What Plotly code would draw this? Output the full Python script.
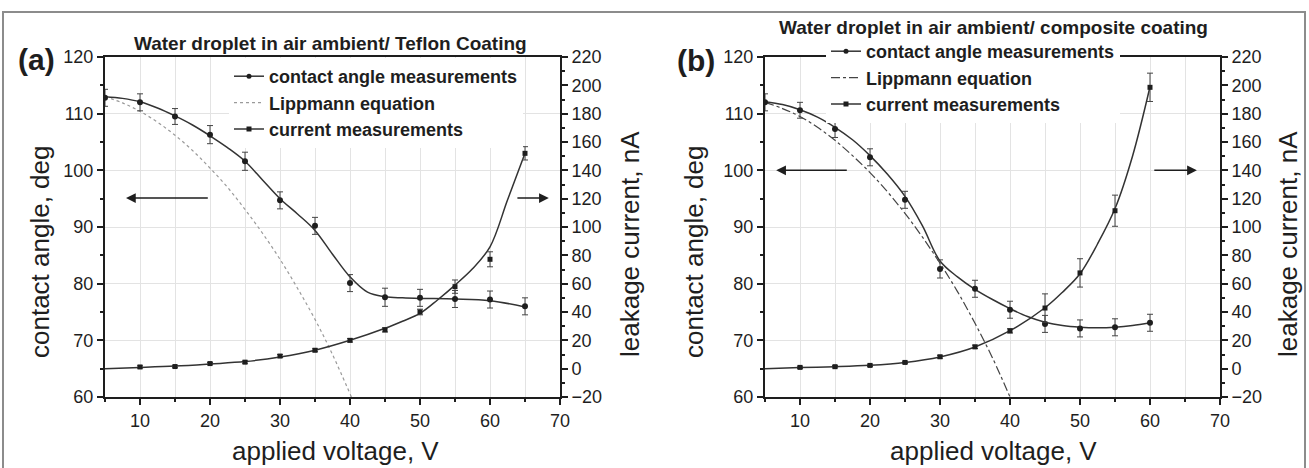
import plotly.graph_objects as go

W, H = 1309, 468
FONT = "Liberation Sans, Arial, sans-serif"

# ---------------- panel (a): Teflon coating ----------------
volt_a = [5, 10, 15, 20, 25, 30, 35, 40, 45, 50, 55, 60, 65]
angle_a = [112.8, 112.0, 109.5, 106.3, 101.6, 94.7, 90.2, 80.1, 77.6, 77.5, 77.3, 77.2, 76.0]
angle_err_a = [1.5, 1.5, 1.4, 1.6, 1.6, 1.5, 1.5, 1.5, 1.6, 1.5, 1.5, 1.5, 1.5]

cur_volt_a = [10, 15, 20, 25, 30, 35, 40, 45, 50, 55, 60, 65]
current_a = [1.2, 1.5, 3.6, 4.6, 8.9, 13.0, 20.0, 27.4, 40.0, 57.9, 77.2, 152.0]
current_err_a = [0.8, 0.8, 0.8, 0.8, 1.0, 1.0, 1.2, 1.5, 2.0, 4.7, 5.3, 4.7]

fit_volt_a = [5, 7.5, 10, 12.5, 15, 17.5, 20, 22.5, 25, 27.5, 30, 32.5, 35, 37.5,
              40, 42.5, 45, 47.5, 50, 55, 60, 65]
fit_angle_a = [113.0, 112.7, 112.1, 111.0, 109.6, 108.0, 106.1, 104.0, 101.6, 98.3,
               95.0, 92.3, 89.4, 85.2, 81.2, 78.5, 77.7, 77.5, 77.4, 77.3, 77.0, 75.9]

fit_cur_volt_a = [5, 10, 15, 20, 25, 30, 35, 40, 45, 47.5, 50, 52.5, 55, 57.5, 60, 62.5, 65]
fit_current_a = [0.0, 0.8, 1.8, 3.3, 5.0, 8.2, 13.0, 20.0, 28.5, 33.5, 39.0, 48.5,
                 59.0, 70.5, 86.0, 119.0, 152.0]

lipp_volt_a = [5, 7.5, 10, 12.5, 15, 17.5, 20, 22.5, 25, 27.5, 30, 32.5, 35, 37.5, 40.2]
lipp_angle_a = [113.0, 111.9, 110.4, 108.5, 106.2, 103.5, 100.4, 97.0, 93.1, 88.9,
                84.3, 79.2, 73.7, 67.5, 60.0]

# ---------------- panel (b): composite coating ----------------
volt_b = [5, 10, 15, 20, 25, 30, 35, 40, 45, 50, 55, 60]
angle_b = [112.0, 110.6, 107.3, 102.3, 94.8, 82.6, 79.1, 75.4, 72.9, 72.1, 72.3, 73.1]
angle_err_b = [1.5, 1.4, 1.5, 1.5, 1.5, 1.6, 1.5, 1.5, 1.5, 1.5, 1.5, 1.5]

cur_volt_b = [10, 15, 20, 25, 30, 35, 40, 45, 50, 55, 60]
current_b = [0.9, 1.4, 2.3, 4.4, 8.4, 15.4, 26.7, 42.8, 67.6, 111.5, 198.6]
current_err_b = [0.8, 0.8, 0.8, 0.8, 1.0, 1.2, 1.5, 10.0, 10.0, 11.0, 10.0]

fit_volt_b = [5, 7.5, 10, 12.5, 15, 17.5, 20, 22.5, 25, 27.5, 30, 32.5, 35, 37.5,
              40, 42.5, 45, 47.5, 50, 52.5, 55, 57.5, 60]
fit_angle_b = [112.1, 111.6, 110.7, 109.4, 107.6, 105.4, 102.6, 99.3, 95.4, 90.2,
               84.0, 81.2, 79.0, 77.2, 75.6, 74.2, 73.2, 72.6, 72.3, 72.2, 72.3, 72.6, 73.1]

fit_cur_volt_b = [5, 10, 15, 20, 25, 30, 35, 40, 45, 47.5, 50, 52.5, 55, 57.5, 60]
fit_current_b = [0.0, 0.8, 1.4, 2.4, 4.4, 8.3, 15.3, 26.8, 43.0, 54.0, 67.0, 88.0,
                 113.0, 150.0, 199.0]

lipp_volt_b = [5, 7.5, 10, 12.5, 15, 17.5, 20, 22.5, 25, 27.5, 30, 32.5, 35, 37.5, 40]
lipp_angle_b = [112.0, 110.9, 109.5, 107.6, 105.3, 102.6, 99.6, 96.2, 92.4, 88.2,
                83.6, 78.6, 73.0, 66.9, 60.0]

x_ticks = [10, 20, 30, 40, 50, 60, 70]
angle_ticks = [60, 70, 80, 90, 100, 110, 120]
current_ticks = [-20, 0, 20, 40, 60, 80, 100, 120, 140, 160, 180, 200, 220]

# pixel layout helpers
def px(x):
    return x / W

def py(y):
    return 1 - y / H

dom_a = [px(105), px(560)]
dom_b = [px(765), px(1220)]
dom_y = [py(397), py(57)]

INK = "#1e1e1e"
LINE = "#333333"
GRID = "#e3e3e3"

fig = go.Figure()

def add_panel(xa, ya, ya2, leg, volt, ang, ang_err, cvolt, cur, cur_err,
              fv, fa, fcv, fc, lv, la, lipp_style):
    # fitted contact-angle curve
    fig.add_trace(go.Scatter(x=fv, y=fa, mode="lines", line=dict(color=LINE, width=1.5, shape="spline"),
                             xaxis=xa, yaxis=ya, showlegend=False, hoverinfo="skip"))
    # Lippmann prediction
    fig.add_trace(go.Scatter(x=lv, y=la, mode="lines", line=dict(shape="spline", **lipp_style),
                             xaxis=xa, yaxis=ya, showlegend=False, hoverinfo="skip"))
    # contact-angle measurements
    fig.add_trace(go.Scatter(x=volt, y=ang, mode="markers",
                             marker=dict(symbol="circle", size=6, color=INK),
                             error_y=dict(type="data", array=ang_err, color="#444", thickness=1, width=3),
                             xaxis=xa, yaxis=ya, showlegend=False))
    # fitted leakage-current curve
    fig.add_trace(go.Scatter(x=fcv, y=fc, mode="lines", line=dict(color=LINE, width=1.5, shape="spline"),
                             xaxis=xa, yaxis=ya2, showlegend=False, hoverinfo="skip"))
    # current measurements
    fig.add_trace(go.Scatter(x=cvolt, y=cur, mode="markers",
                             marker=dict(symbol="square", size=5, color=INK),
                             error_y=dict(type="data", array=cur_err, color="#444", thickness=1, width=3),
                             xaxis=xa, yaxis=ya2, showlegend=False))
    # legend entries
    fig.add_trace(go.Scatter(x=[None], y=[None], mode="lines+markers", name="contact angle measurements",
                             line=dict(color=LINE, width=1.5), marker=dict(symbol="circle", size=5, color=INK),
                             xaxis=xa, yaxis=ya, legend=leg))
    fig.add_trace(go.Scatter(x=[None], y=[None], mode="lines", name="Lippmann equation",
                             line=lipp_style, xaxis=xa, yaxis=ya, legend=leg))
    fig.add_trace(go.Scatter(x=[None], y=[None], mode="lines+markers", name="current measurements",
                             line=dict(color=LINE, width=1.5), marker=dict(symbol="square", size=5, color=INK),
                             xaxis=xa, yaxis=ya, legend=leg))

add_panel("x", "y", "y2", "legend", volt_a, angle_a, angle_err_a, cur_volt_a, current_a, current_err_a,
          fit_volt_a, fit_angle_a, fit_cur_volt_a, fit_current_a, lipp_volt_a, lipp_angle_a,
          dict(color="#9a9a9a", width=1.2, dash="dot"))
add_panel("x2", "y3", "y4", "legend2", volt_b, angle_b, angle_err_b, cur_volt_b, current_b, current_err_b,
          fit_volt_b, fit_angle_b, fit_cur_volt_b, fit_current_b, lipp_volt_b, lipp_angle_b,
          dict(color="#444444", width=1.2, dash="dashdot"))

tickfont = dict(family=FONT, size=18, color=INK)

def xaxis_cfg(domain, anchor):
    return dict(domain=domain, anchor=anchor, range=[5, 70], tickvals=x_ticks, ticks="outside",
                ticklen=6, tickwidth=1.5, tickcolor=INK, showline=True, linecolor=INK, linewidth=2,
                mirror=True, showgrid=True, gridcolor=GRID, gridwidth=1, zeroline=False,
                tickfont=tickfont, automargin=False,
                minor=dict(dtick=5, tick0=5, ticks="outside", ticklen=3, tickcolor=INK,
                           showgrid=True, gridcolor=GRID))

def yleft_cfg(anchor):
    return dict(domain=dom_y, anchor=anchor, range=[60, 120], tickvals=angle_ticks, ticks="outside",
                ticklen=6, tickwidth=1.5, tickcolor=INK, showline=True, linecolor=INK, linewidth=2,
                showgrid=True, gridcolor=GRID, zeroline=False, tickfont=tickfont, automargin=False,
                minor=dict(dtick=5, tick0=60, ticks="outside", ticklen=3, tickcolor=INK, showgrid=False))

def yright_cfg(anchor, over):
    return dict(anchor=anchor, overlaying=over, side="right", range=[-20, 220], tickvals=current_ticks,
                ticks="outside", ticklen=6, tickwidth=1.5, tickcolor=INK, showline=True, linecolor=INK,
                linewidth=2, showgrid=False, zeroline=False, tickfont=tickfont, automargin=False,
                minor=dict(dtick=10, tick0=-20, ticks="outside", ticklen=3, tickcolor=INK))

legend_font = dict(family=FONT, size=18, color=INK, weight="bold")

fig.update_layout(
    width=W, height=H, autosize=False,
    margin=dict(l=0, r=0, t=0, b=0),
    paper_bgcolor="white", plot_bgcolor="white",
    font=dict(family=FONT, color=INK),
    xaxis=xaxis_cfg(dom_a, "y"),
    xaxis2=xaxis_cfg(dom_b, "y3"),
    yaxis=yleft_cfg("x"),
    yaxis2=yright_cfg("x", "y"),
    yaxis3=yleft_cfg("x2"),
    yaxis4=yright_cfg("x2", "y3"),
    legend=dict(x=px(229), y=py(58), xanchor="left", yanchor="top", bgcolor="white",
                borderwidth=0, font=legend_font, tracegroupgap=0, itemwidth=30),
    legend2=dict(x=px(826), y=py(33), xanchor="left", yanchor="top", bgcolor="white",
                 borderwidth=0, font=legend_font, tracegroupgap=0, itemwidth=30),
    showlegend=True,
)

ann = []
# panel titles and letters
ann.append(dict(text="<b>Water droplet in air ambient/ Teflon Coating</b>", x=px(330), y=py(43),
                font=dict(family=FONT, size=19, color=INK)))
ann.append(dict(text="<b>Water droplet in air ambient/ composite coating</b>", x=px(993), y=py(27),
                font=dict(family=FONT, size=19, color=INK)))
ann.append(dict(text="<b>(a)</b>", x=px(36), y=py(60), font=dict(family=FONT, size=30, color=INK)))
ann.append(dict(text="<b>(b)</b>", x=px(696), y=py(61), font=dict(family=FONT, size=30, color=INK)))
# axis titles
title_font = dict(family=FONT, size=26, color=INK)
for xc, yl, xr, xx in [(40, 252, 630, 335), (694, 252, 1288, 993)]:
    ann.append(dict(text="contact angle, deg", x=px(xc), y=py(yl), textangle=-90, font=title_font))
    ann.append(dict(text="leakage current, nA", x=px(xr), y=py(244), textangle=-90, font=title_font))
    ann.append(dict(text="applied voltage, V", x=px(xx), y=py(451), font=title_font))
for a in ann:
    a.update(xref="paper", yref="paper", showarrow=False, xanchor="center", yanchor="middle")

# axis-indicator arrows
arrows = [
    ("x", "y", 8.0, 19.9, 95.1),
    ("x", "y", 68.4, 63.7, 95.1),
    ("x2", "y3", 6.6, 16.9, 100.0),
    ("x2", "y3", 66.7, 60.4, 100.0),
]
for xr, yr, head, tail, yv in arrows:
    ann.append(dict(x=head, y=yv, ax=tail, ay=yv, xref=xr, yref=yr, axref=xr, ayref=yr,
                    showarrow=True, arrowhead=2, arrowsize=1.3, arrowwidth=1.5, arrowcolor=INK, text=""))

fig.update_layout(annotations=ann)

# outer frame
fig.add_shape(type="rect", xref="paper", yref="paper", x0=px(3), x1=px(1305), y0=-0.02, y1=py(12),
              line=dict(color="#8c8c8c", width=2), fillcolor="rgba(0,0,0,0)", layer="above")

fig.write_html("out.html")
